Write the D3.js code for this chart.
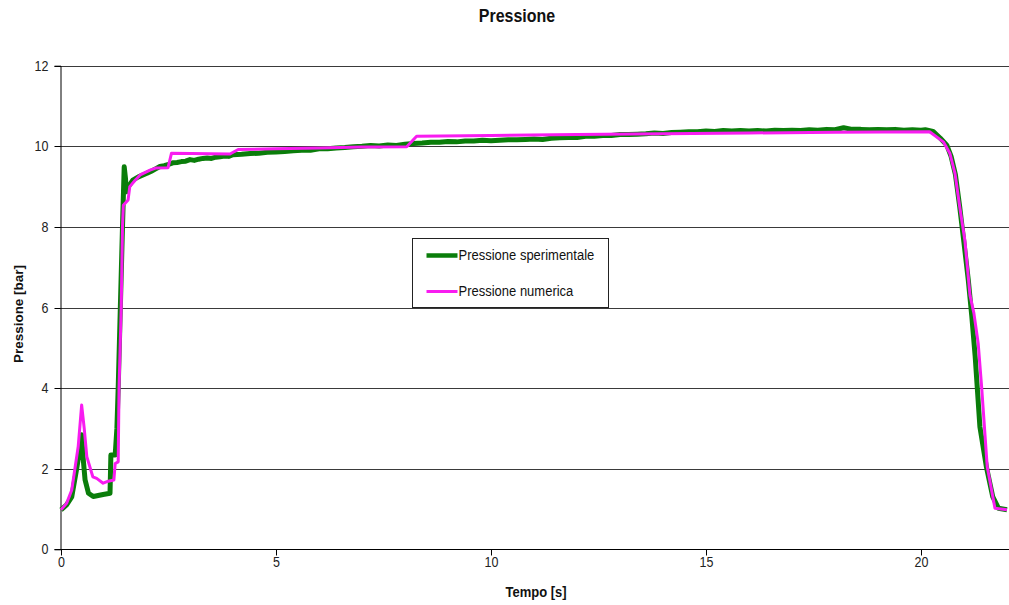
<!DOCTYPE html>
<html>
<head>
<meta charset="utf-8">
<script src="https://cdn.jsdelivr.net/npm/d3@7"></script>
<style>
  html, body { margin: 0; padding: 0; background: #fff; }
  svg { display: block; font-family: "Liberation Sans", Arial, sans-serif; }
</style>
</head>
<body>
<svg id="chart" width="1009" height="605"></svg>
<script>
// Axis ticks
const xTicks = [0, 5, 10, 15, 20];
const yTicks = [0, 2, 4, 6, 8, 10, 12];

// Series names
const seriesNames = ["Pressione sperimentale", "Pressione numerica"];

// Measured pressure [time s, pressure bar]
const sperimentale = [
  [0, 0.98], [0.13, 1.10], [0.25, 1.30], [0.36, 1.97], [0.44, 2.5], [0.48, 2.84],
  [0.52, 2.2], [0.56, 1.72], [0.64, 1.39], [0.75, 1.31], [0.98, 1.36], [1.14, 1.39],
  [1.16, 2.34], [1.26, 2.34], [1.30, 3.0], [1.33, 4.0], [1.38, 6.0], [1.43, 8.0],
  [1.47, 9.49], [1.50, 9.2], [1.52, 8.87], [1.58, 9.02], [1.67, 9.16], [1.8, 9.24],
  [2.0, 9.33], [2.1, 9.38], [2.2, 9.44], [2.3, 9.5], [2.4, 9.52], [2.5, 9.55],
  [2.6, 9.59], [2.7, 9.6], [2.8, 9.62], [2.9, 9.63], [3.0, 9.67], [3.1, 9.65],
  [3.2, 9.68], [3.3, 9.7], [3.4, 9.71], [3.5, 9.7], [3.6, 9.73], [3.7, 9.74],
  [3.8, 9.76], [3.9, 9.75], [4.0, 9.79], [4.2, 9.8], [4.4, 9.82], [4.6, 9.83],
  [4.8, 9.85], [5.0, 9.86], [5.2, 9.87], [5.4, 9.89], [5.6, 9.9], [5.8, 9.9],
  [6.0, 9.94], [6.2, 9.94], [6.4, 9.96], [6.6, 9.97], [6.8, 9.99], [7.0, 10.0],
  [7.2, 10.02], [7.4, 10.01], [7.6, 10.03], [7.8, 10.02], [8.0, 10.05], [8.2, 10.07],
  [8.4, 10.08], [8.6, 10.1], [8.8, 10.1], [9.0, 10.12], [9.2, 10.11], [9.4, 10.13],
  [9.6, 10.13], [9.8, 10.15], [10.0, 10.14], [10.2, 10.15], [10.4, 10.16], [10.6, 10.16],
  [10.8, 10.17], [11.0, 10.18], [11.2, 10.17], [11.4, 10.2], [11.6, 10.21], [11.8, 10.22],
  [12.0, 10.22], [12.2, 10.25], [12.4, 10.25], [12.6, 10.27], [12.8, 10.27], [13.0, 10.29],
  [13.2, 10.29], [13.4, 10.3], [13.6, 10.31], [13.8, 10.33], [14.0, 10.32], [14.2, 10.34],
  [14.4, 10.35], [14.6, 10.36], [14.8, 10.36], [15.0, 10.38], [15.2, 10.37], [15.4, 10.39],
  [15.6, 10.38], [15.8, 10.39], [16.0, 10.38], [16.2, 10.39], [16.4, 10.38], [16.6, 10.4],
  [16.8, 10.39], [17.0, 10.4], [17.2, 10.39], [17.4, 10.41], [17.6, 10.4], [17.8, 10.42],
  [18.0, 10.41], [18.2, 10.46], [18.4, 10.42], [18.6, 10.42], [18.8, 10.41], [19.0, 10.42],
  [19.2, 10.41], [19.4, 10.42], [19.6, 10.4], [19.8, 10.41], [20.0, 10.4], [20.1, 10.41],
  [20.28, 10.37], [20.45, 10.2], [20.6, 10.03], [20.7, 9.75], [20.8, 9.3], [20.9, 8.5],
  [21.0, 7.6], [21.1, 6.68], [21.18, 5.8], [21.26, 4.78], [21.37, 3.04], [21.52, 2.05],
  [21.67, 1.3], [21.8, 1.02], [22.0, 0.98]
];

// Simulated pressure [time s, pressure bar]
const numerica = [
  [0, 0.98], [0.13, 1.14], [0.25, 1.47], [0.4, 2.55], [0.48, 3.58], [0.54, 3.0],
  [0.6, 2.3], [0.74, 1.8], [0.83, 1.76], [0.98, 1.64], [1.1, 1.69], [1.23, 1.72],
  [1.26, 2.13], [1.33, 2.17], [1.35, 4.0], [1.40, 6.0], [1.43, 8.0], [1.45, 8.54],
  [1.56, 8.67], [1.6, 9.0], [1.72, 9.15], [1.84, 9.29], [2.07, 9.41], [2.2, 9.46],
  [2.49, 9.47], [2.57, 9.83], [3.93, 9.81], [4.12, 9.92], [5.0, 9.94], [6.0, 9.96],
  [7.0, 9.98], [8.04, 9.99], [8.27, 10.25], [10.0, 10.27], [12.0, 10.29], [14.0, 10.31],
  [16.0, 10.33], [18.0, 10.35], [20.2, 10.36], [20.52, 10.11], [20.67, 9.83], [20.79, 9.33],
  [20.9, 8.5], [21.02, 7.67], [21.14, 6.3], [21.23, 5.86], [21.33, 5.11], [21.41, 4.03],
  [21.54, 2.05], [21.72, 1.02], [22.0, 0.98]
];

const svg = d3.select("#chart");
const margin = { left: 60, right: 2, top: 65, bottom: 56 };
const W = 1009, H = 605;

const x = d3.scaleLinear().domain([0, 22]).range([margin.left + 1, 1007]);
const y = d3.scaleLinear().domain([0, 12]).range([549.3, 65.7]);

const textStretch = 1.12;

// Horizontal gridlines
svg.append("g")
  .selectAll("line")
  .data(yTicks.filter(d => d > 0))
  .join("line")
  .attr("x1", margin.left).attr("x2", W)
  .attr("y1", d => Math.round(y(d)) + 0.5).attr("y2", d => Math.round(y(d)) + 0.5)
  .attr("stroke", "#3a3a3a").attr("stroke-width", 1);

// Y axis
const yAxis = svg.append("g")
  .attr("transform", `translate(${margin.left + 0.5},0)`)
  .call(d3.axisLeft(y).tickValues(yTicks).tickSize(6).tickPadding(6).tickFormat(d3.format("d")));
yAxis.select(".domain").attr("stroke", "#000");
yAxis.selectAll(".tick line").attr("stroke", "#000");
yAxis.selectAll(".tick text")
  .attr("font-size", 12.5).attr("fill", "#222")
  .attr("font-family", "Liberation Sans, Arial, sans-serif")
  .attr("transform", `scale(1,${textStretch})`)
  .attr("y", 0)
  .attr("dy", "0.32em");
yAxis.selectAll(".tick").each(function (d) {
  d3.select(this).attr("transform", `translate(0,${Math.round(y(d)) + 0.5})`);
});

// X axis
const xAxis = svg.append("g")
  .attr("transform", `translate(0,${Math.round(y(0)) + 0.5})`)
  .call(d3.axisBottom(x).tickValues(xTicks).tickSize(6).tickPadding(4).tickFormat(d3.format("d")));
xAxis.select(".domain").attr("stroke", "#000").attr("d", `M${margin.left},0.5V0H${W}V0.5`);
xAxis.selectAll(".tick line").attr("stroke", "#000");
xAxis.selectAll(".tick text")
  .attr("font-size", 12.5).attr("fill", "#222")
  .attr("font-family", "Liberation Sans, Arial, sans-serif")
  .attr("transform", `scale(1,${textStretch})`)
  .attr("y", 7);

// Series lines
const line = d3.line().x(d => x(d[0])).y(d => y(d[1]));

svg.append("path")
  .datum(sperimentale)
  .attr("fill", "none")
  .attr("stroke", "#0a7d0a")
  .attr("stroke-width", 5)
  .attr("stroke-linejoin", "round")
  .attr("d", line);

svg.append("path")
  .datum(numerica)
  .attr("fill", "none")
  .attr("stroke", "#f81cf0")
  .attr("stroke-width", 3)
  .attr("stroke-linejoin", "round")
  .attr("d", line);

// Title and axis labels
svg.append("text")
  .attr("transform", `translate(517,22) scale(1,${textStretch})`)
  .attr("text-anchor", "middle")
  .attr("font-size", 16).attr("font-weight", "bold").attr("fill", "#111")
  .text("Pressione");

svg.append("text")
  .attr("transform", `translate(536,597) scale(1,${textStretch})`)
  .attr("text-anchor", "middle")
  .attr("font-size", 13).attr("font-weight", "bold").attr("fill", "#111")
  .text("Tempo [s]");

svg.append("text")
  .attr("transform", `translate(23,314) rotate(-90) scale(${textStretch},1)`)
  .attr("text-anchor", "middle")
  .attr("font-size", 12).attr("font-weight", "bold").attr("fill", "#111")
  .text("Pressione [bar]");

// Legend
const legend = svg.append("g").attr("transform", "translate(412.5,238.5)");
legend.append("rect")
  .attr("width", 196).attr("height", 69)
  .attr("fill", "#fff").attr("stroke", "#222").attr("stroke-width", 1);

const legendColors = ["#0a7d0a", "#f81cf0"];
const legendWidths = [4.5, 3];
const legendRows = [17, 53];
seriesNames.forEach((name, i) => {
  legend.append("line")
    .attr("x1", 14).attr("x2", 45)
    .attr("y1", legendRows[i]).attr("y2", legendRows[i])
    .attr("stroke", legendColors[i]).attr("stroke-width", legendWidths[i]);
  legend.append("text")
    .attr("transform", `translate(46,${legendRows[i] + 4}) scale(1,${textStretch})`)
    .attr("font-size", 13).attr("fill", "#111")
    .text(name);
});
</script>
</body>
</html>
